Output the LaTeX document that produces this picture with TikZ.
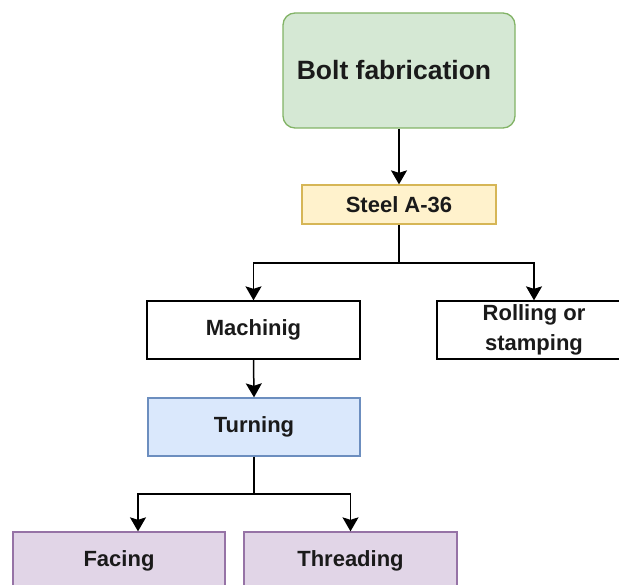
\documentclass[tikz,border=0pt]{standalone}
\usepackage{fontspec}
\setmainfont{Liberation Sans}
\usetikzlibrary{arrows.meta,calc}
\definecolor{gfill}{HTML}{D5E8D4}\definecolor{gdraw}{HTML}{82B366}
\definecolor{yfill}{HTML}{FFF2CC}\definecolor{ydraw}{HTML}{D6B656}
\definecolor{bfill}{HTML}{DAE8FC}\definecolor{bdraw}{HTML}{6C8EBF}
\definecolor{pfill}{HTML}{E1D5E7}\definecolor{pdraw}{HTML}{9673A6}
\definecolor{txt}{HTML}{1A1A1A}
\tikzset{
  box/.style={draw, line width=1.3pt, inner sep=0pt, align=center, text=txt,
    font=\fontsize{22}{30}\selectfont\bfseries},
  arr/.style={line width=1.5pt, -{Stealth[length=14pt,width=16pt,inset=2.5pt]}},
  ln/.style={line width=1.5pt}
}
\begin{document}
\begin{tikzpicture}[x=1pt,y=-1pt]
\useasboundingbox (0,0) rectangle (619,585);
\node[box, fill=gfill, draw=gdraw, rounded corners=12pt, minimum width=232pt, minimum height=115pt,
  font=\fontsize{26.5}{30}\selectfont\bfseries] (bolt) at (399,70.5) {Bolt fabrication\hspace*{10pt}};
\node[box, fill=yfill, draw=ydraw, minimum width=194pt, minimum height=39pt] (steel) at (399,204.5) {Steel A-36};
\node[box, fill=white, draw=black, minimum width=213pt, minimum height=58pt] (mach) at (253.5,330) {Machinig};
\node[box, fill=white, draw=black, minimum width=194pt, minimum height=58pt] (roll) at (534,330) {Rolling or\\stamping};
\node[box, fill=bfill, draw=bdraw, minimum width=212pt, minimum height=58pt] (turn) at (254,427) {Turning};
\node[box, fill=pfill, draw=pdraw, minimum width=212pt, minimum height=58pt] (face) at (119,561) {Facing};
\node[box, fill=pfill, draw=pdraw, minimum width=213pt, minimum height=58pt] (thread) at (350.5,561) {Threading};
\coordinate (j1) at (399,263);
\coordinate (j2) at (254,494);
\coordinate (fa) at ($(face.north)+(19,0)$);
\draw[arr] (bolt.south) -- (steel.north);
\draw[ln] (steel.south) -- (j1);
\draw[arr] (j1) -| (mach.north);
\draw[arr] (j1) -| (roll.north);
\draw[arr] (mach.south) -- (turn.north);
\draw[ln] (turn.south) -- (j2);
\draw[arr] (j2) -| (fa);
\draw[arr] (j2) -| (thread.north);
\end{tikzpicture}
\end{document}
